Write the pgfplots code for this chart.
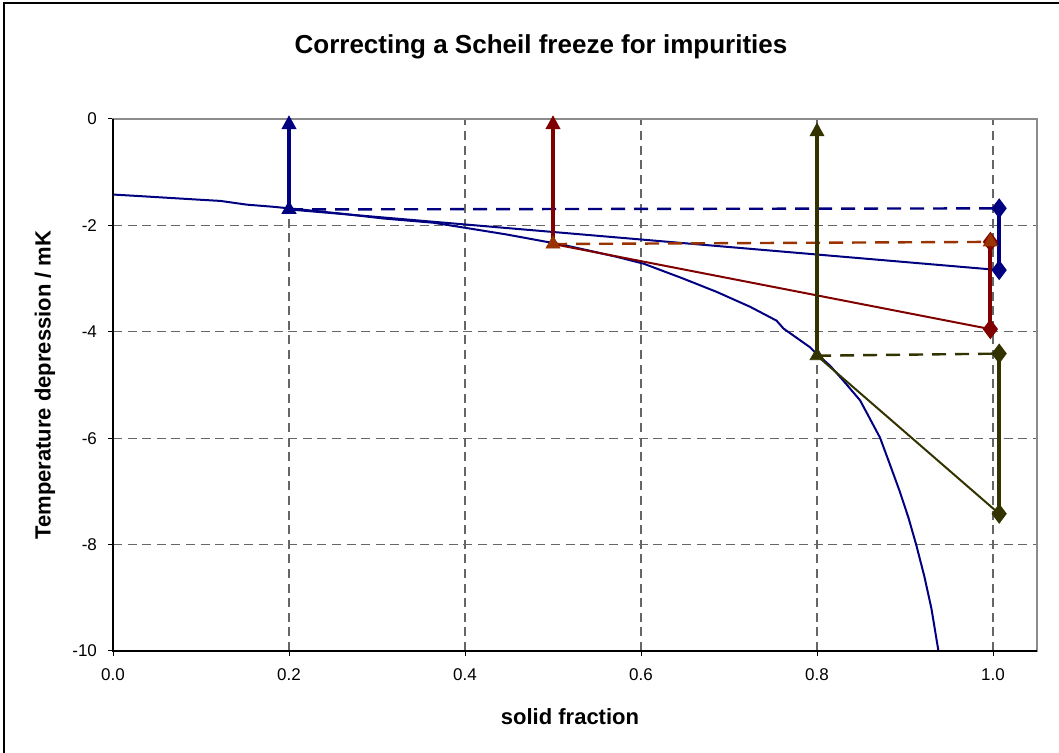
\documentclass[border=0pt]{standalone}
\usepackage{pgfplots}
\pgfplotsset{compat=1.18}
\usepackage{fontspec}
\setmainfont{Liberation Sans}
\usetikzlibrary{arrows.meta}
\definecolor{cnavy}{HTML}{000080}
\definecolor{cdred}{HTML}{800000}
\definecolor{corange}{HTML}{993300}
\definecolor{colive}{HTML}{333300}
\begin{document}
\begin{tikzpicture}
\useasboundingbox (0,0) rectangle (529.5pt,376.5pt);
\draw[line width=0.8pt,black] (2pt,-3pt) rectangle (533pt,375pt);
\begin{axis}[
  at={(56.5pt,51pt)}, anchor=south west,
  scale only axis, width=462pt, height=266pt,
  xmin=0, xmax=1.05, ymin=-10, ymax=0,
  clip=false,
  xtick={0,0.2,0.4,0.6,0.8,1.0},
  ytick={-10,-8,-6,-4,-2,0},
  xticklabel style={/pgf/number format/.cd,fixed,fixed zerofill,precision=1},
  yticklabel style={/pgf/number format/fixed},
  /pgf/number format/assume math mode=true,
  tick label style={font=\fontsize{8.5pt}{10pt}\selectfont},
  grid=major,
  major grid style={black!60, line width=0.55pt, dash pattern=on 4.5pt off 2.8pt},
  axis line style={black!45, line width=0.7pt},
  tick pos=left, tick align=outside, major tick length=2.5pt,
  tick style={black, line width=0.5pt},
  xticklabel shift=3pt,
  yticklabel shift=2pt,
]
% Scheil curve
\addplot[cnavy, line width=1pt, line join=round] coordinates {
(0,-1.42) (0.031,-1.45) (0.061,-1.48) (0.091,-1.51) (0.122,-1.54) (0.152,-1.61)
(0.182,-1.65) (0.2125,-1.70) (0.26,-1.78) (0.307,-1.87) (0.364,-1.95) (0.402,-2.05)
(0.447,-2.17) (0.493,-2.31) (0.504,-2.34) (0.54,-2.47) (0.572,-2.59) (0.603,-2.72)
(0.648,-3.0) (0.686,-3.25) (0.724,-3.53) (0.754,-3.79) (0.762,-3.94) (0.792,-4.29)
(0.8,-4.42) (0.815,-4.64) (0.83,-4.92) (0.849,-5.29) (0.8716,-5.99) (0.883,-6.5)
(0.894,-7.0) (0.904,-7.5) (0.913,-8.02) (0.922,-8.6) (0.930,-9.2) (0.936,-9.8) (0.938,-10)
};
% blue set
\addplot[cnavy, line width=1.2pt, dash pattern=on 7pt off 4.5pt] coordinates {(0.2,-1.70) (1.007,-1.68)};
\addplot[cnavy, line width=1pt] coordinates {(0.2,-1.70) (1.007,-2.84)};
% red set
\addplot[corange, line width=1.2pt, dash pattern=on 7pt off 4.5pt] coordinates {(0.5,-2.35) (0.997,-2.31)};
\addplot[cdred, line width=1pt] coordinates {(0.5,-2.35) (0.997,-3.95)};
% olive set
\addplot[colive, line width=1.2pt, dash pattern=on 7pt off 4.5pt] coordinates {(0.8,-4.45) (1.007,-4.41)};
\addplot[colive, line width=1pt] coordinates {(0.8,-4.45) (1.007,-7.42)};
% arrows
\addplot[cnavy, line width=2pt, -{Triangle[width=7pt,length=7pt]}] coordinates {(0.2,-1.70) (0.2,0.075)};
\addplot[cdred, line width=2pt, -{Triangle[width=7pt,length=7pt]}] coordinates {(0.5,-2.35) (0.5,0.075)};
\addplot[colive, line width=2pt, -{Triangle[width=7pt,length=7pt]}] coordinates {(0.8,-4.45) (0.8,-0.06)};
% verticals at right
\addplot[cnavy, line width=2pt, mark=diamond*, mark size=3.4pt, mark options={solid}] coordinates {(1.007,-1.68) (1.007,-2.84)};
\addplot[cdred, line width=2pt, mark=diamond*, mark size=3.4pt, mark options={solid}] coordinates {(0.997,-3.95) (0.997,-2.31)};
\addplot[colive, line width=2pt, mark=diamond*, mark size=3.4pt, mark options={solid}] coordinates {(1.007,-4.41) (1.007,-7.42)};
% triangle markers
\addplot[only marks, mark=triangle*, mark size=4pt, cnavy] coordinates {(0.2,-1.70)};
\addplot[only marks, mark=triangle*, mark size=4pt, corange] coordinates {(0.5,-2.35) (0.997,-2.31)};
\addplot[only marks, mark=triangle*, mark size=4pt, colive] coordinates {(0.8,-4.45)};
% black axes on left and bottom
\draw[black, line width=0.7pt] (rel axis cs:0,1) -- (rel axis cs:0,0) -- (rel axis cs:1,0);
\end{axis}
\node[font=\bfseries\fontsize{13pt}{15pt}\selectfont] at (270.5pt,353pt) {Correcting a Scheil freeze for impurities};
\node[font=\bfseries\fontsize{11pt}{13pt}\selectfont] at (285pt,18pt) {solid fraction};
\node[font=\bfseries\fontsize{11pt}{13pt}\selectfont, rotate=90] at (22.5pt,184pt) {Temperature depression / mK};
\end{tikzpicture}
\end{document}
